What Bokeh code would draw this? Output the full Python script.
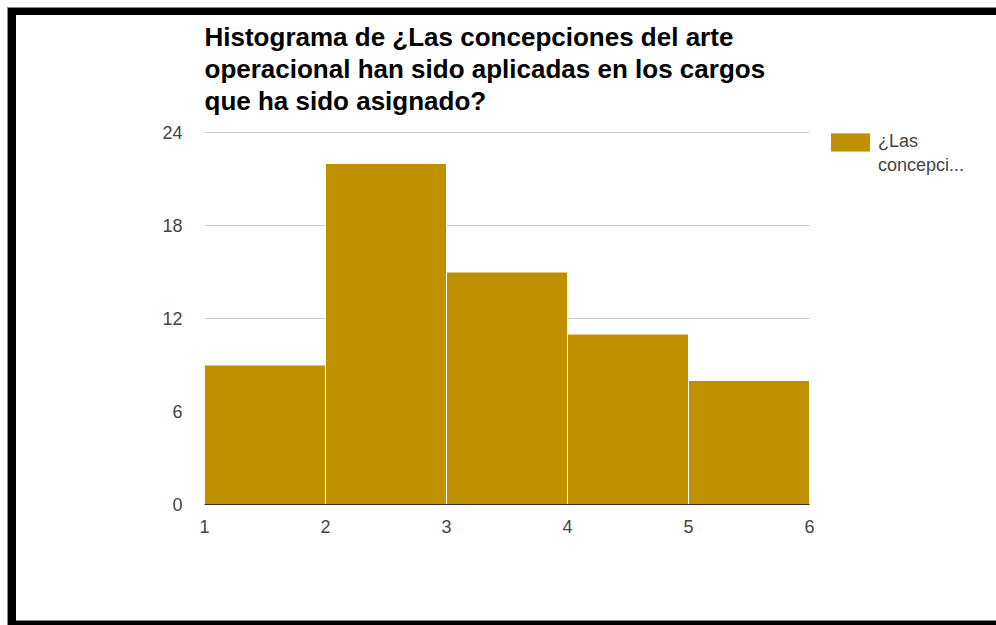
from bokeh.plotting import figure
from bokeh.models import Range1d, FixedTicker, Legend, LegendItem, ColumnDataSource, Title, Grid
from bokeh.embed import file_html
from bokeh.resources import INLINE

# ---- data ----
bin_left = [1, 2, 3, 4, 5]
bin_right = [2, 3, 4, 5, 6]
counts = [9, 22, 15, 11, 8]
x_ticks = [1, 2, 3, 4, 5, 6]
y_ticks = [0, 6, 12, 18, 24]
title_lines = ["Histograma de ¿Las concepciones del arte",
               "operacional han sido aplicadas en los cargos",
               "que ha sido asignado?"]
series_label_lines = ["¿Las", "concepci..."]

BAR = "#bf9000"
W, H = 996, 625
FL, FT, FB = 204, 120, 504      # frame edges in px (frame extends to the right edge)
PX_X = 121.0                     # px per x unit
PX_Y = 15.5                      # px per y unit

p = figure(width=W, height=H, output_backend="svg", toolbar_location=None,
           x_range=Range1d(x_ticks[0], x_ticks[0] + (W - FL) / PX_X),
           y_range=Range1d(0, (FB - FT) / PX_Y),
           min_border_left=FL, min_border_right=0,
           min_border_top=FT, min_border_bottom=H - FB)
p.outline_line_color = None
p.background_fill_color = "white"
p.border_fill_alpha = 0

# page border drawn as CSS background layers under the transparent canvas
rects = [  # (x, y, w, h, color) in px
    (8, 8, 988, 7, "#000000"),
    (8, 8, 8, 617, "#000000"),
    (8, 621, 988, 4, "#000000"),
    (7, 7, 989, 1, "#8a8a8a"),
    (7, 7, 1, 618, "#8a8a8a"),
    (8, 620, 988, 1, "#8a8a8a"),
]
p.styles = {
    "background-color": "white",
    "background-image": ", ".join(f"linear-gradient({c}, {c})" for *_, c in rects),
    "background-size": ", ".join(f"{w}px {h}px" for _, _, w, h, _ in rects),
    "background-position": ", ".join(f"{x}px {y}px" for x, y, *_ in rects),
    "background-repeat": "no-repeat",
}

src = ColumnDataSource(dict(left=bin_left, right=bin_right, top=counts, bottom=[0] * len(counts)))
bars = p.quad(left="left", right="right", top="top", bottom="bottom", source=src,
              fill_color=BAR, line_color="white", line_width=1)

# axes
p.xaxis.ticker = FixedTicker(ticks=x_ticks)
p.xaxis.bounds = (x_ticks[0], x_ticks[-1])
p.yaxis.ticker = FixedTicker(ticks=y_ticks)
p.yaxis.bounds = (y_ticks[0], y_ticks[-1])
for ax in (p.xaxis, p.yaxis):
    ax.major_tick_line_color = None
    ax.minor_tick_line_color = None
    ax.major_label_text_font = "Liberation Sans"
    ax.major_label_text_font_size = "18px"
    ax.major_label_text_color = "#444444"
p.yaxis.axis_line_color = None
p.yaxis.major_label_standoff = 16
p.xaxis.axis_line_color = "#333333"
p.xaxis.axis_line_width = 1
p.xaxis.major_label_standoff = 9
p.xgrid.grid_line_color = None

# horizontal gridlines limited to the data extent
if "cross_bounds" in Grid.properties():
    p.ygrid.grid_line_color = "#cccccc"
    p.ygrid.cross_bounds = (x_ticks[0], x_ticks[-1])
    p.ygrid.level = "underlay"
else:
    p.ygrid.grid_line_color = None
    p.segment(x0=[x_ticks[0]] * len(y_ticks), x1=[x_ticks[-1]] * len(y_ticks),
              y0=y_ticks, y1=y_ticks, line_color="#cccccc", line_width=1, level="underlay")

# title (three lines)
title = Title(text="\n".join(title_lines), align="left", text_font="Liberation Sans",
              text_font_style="bold", text_font_size="26px", text_color="#000000",
              standoff=8, offset=0)
if "text_line_height" in Title.properties():
    title.text_line_height = 1.07
p.add_layout(title, "above")

# legend (inside the widened frame, right of the bars); the label wraps onto a 2nd row
blank = p.quad(left=[], right=[], top=[], bottom=[], fill_alpha=0, line_alpha=0)
GW, GH = 50, 24   # swatch is drawn inset by 10% -> 40 x 19 px
legend = Legend(items=[LegendItem(label=series_label_lines[0], renderers=[bars]),
                       LegendItem(label=series_label_lines[1], renderers=[blank])],
                location=(830 - FL - 5, FB - 129.5 - 2 * GH), orientation="vertical",
                glyph_width=GW, glyph_height=GH, label_standoff=3, spacing=0,
                label_text_font="Liberation Sans", label_text_font_size="18px",
                label_text_color="#444444", padding=0, margin=0,
                border_line_color=None, background_fill_alpha=0)
p.add_layout(legend, "center")

open("out.html", "w").write(file_html(p, INLINE))
